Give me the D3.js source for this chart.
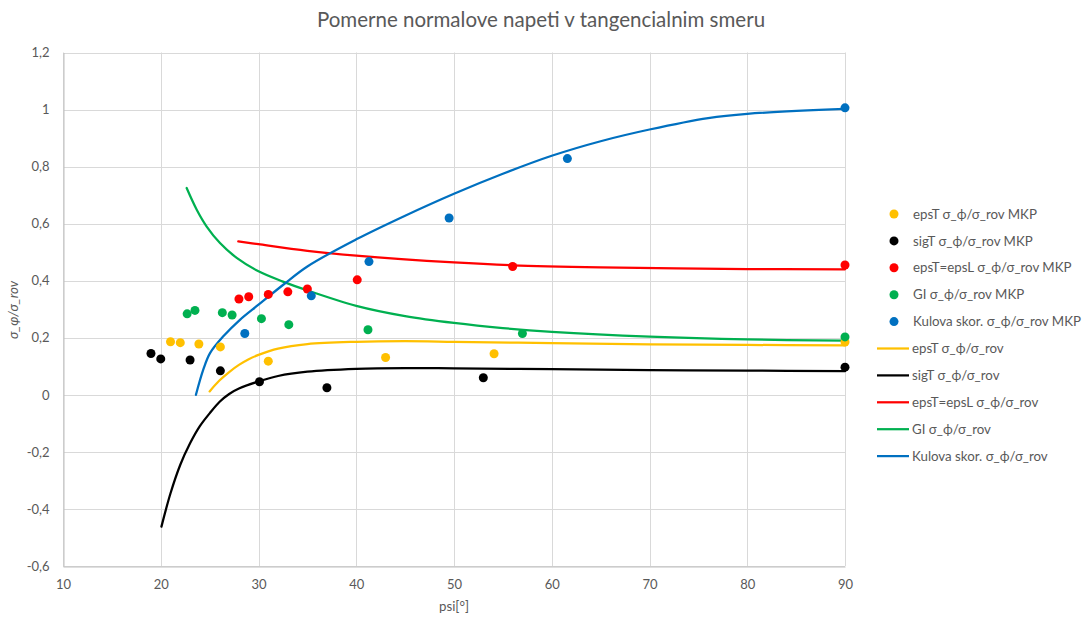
<!DOCTYPE html>
<html>
<head>
<meta charset="utf-8">
<script src="https://cdn.jsdelivr.net/npm/d3@7"></script>
<style>
  html, body { margin: 0; padding: 0; background: #fff; }
  svg { display: block; }
  text { font-family: Lato, "Open Sans", sans-serif; fill: #595959; }
</style>
</head>
<body>
<svg id="chart" width="1082" height="617"></svg>
<script>
// Axis ticks
const xTicks = [10, 20, 30, 40, 50, 60, 70, 80, 90];
const yTicks = [-0.6, -0.4, -0.2, 0, 0.2, 0.4, 0.6, 0.8, 1, 1.2];

// MKP results (points)
const epsT_mkp_x = [21, 22, 23.9, 26.1, 31, 43, 54.1, 90];
const epsT_mkp_y = [0.186, 0.183, 0.178, 0.168, 0.118, 0.131, 0.144, 0.185];

const sigT_mkp_x = [19, 20, 23, 26.1, 30.1, 37, 53, 90];
const sigT_mkp_y = [0.145, 0.126, 0.122, 0.084, 0.046, 0.025, 0.06, 0.097];

const epsTL_mkp_x = [28, 29, 31, 33, 35, 40.1, 56, 90];
const epsTL_mkp_y = [0.336, 0.344, 0.352, 0.361, 0.371, 0.403, 0.45, 0.455];

const gi_mkp_x = [22.7, 23.5, 26.3, 27.3, 30.3, 33.1, 41.2, 57, 90];
const gi_mkp_y = [0.284, 0.296, 0.288, 0.28, 0.267, 0.246, 0.228, 0.215, 0.203];

const kul_mkp_x = [28.6, 35.4, 41.3, 49.5, 61.6, 90];
const kul_mkp_y = [0.215, 0.347, 0.467, 0.62, 0.828, 1.006];

// Analytical curves
const epsT_x = [25, 26, 27, 28, 29, 30, 32, 35, 40, 45, 50, 60, 70, 80, 90];
const epsT_y = [0.012, 0.05, 0.08, 0.105, 0.125, 0.14, 0.162, 0.178, 0.186, 0.188, 0.186, 0.181, 0.177, 0.175, 0.173];

const sigT_x = [20.07, 21, 22, 23, 24, 25, 26, 27, 28, 30, 32, 35, 40, 45, 50, 60, 70, 80, 90];
const sigT_y = [-0.462, -0.345, -0.245, -0.17, -0.11, -0.065, -0.025, 0.003, 0.022, 0.047, 0.066, 0.081, 0.091, 0.094, 0.093, 0.09, 0.087, 0.085, 0.083];

const epsTL_x = [27.93, 30, 35, 40, 50, 56, 65, 80, 90];
const epsTL_y = [0.538, 0.528, 0.505, 0.488, 0.464, 0.454, 0.447, 0.441, 0.44];

const gi_x = [22.65, 23.68, 24.7, 26.06, 27.77, 30, 32.5, 35, 40, 45, 50, 55, 60, 70, 80, 90];
const gi_y = [0.725, 0.649, 0.59, 0.532, 0.48, 0.433, 0.397, 0.366, 0.312, 0.276, 0.252, 0.234, 0.221, 0.204, 0.194, 0.19];

const kul_x = [23.6, 24.35, 25.04, 26.4, 28.1, 30, 32.5, 35, 40, 45, 50, 55, 60, 65, 70, 76, 80, 90];
const kul_y = [0, 0.088, 0.146, 0.205, 0.263, 0.316, 0.385, 0.45, 0.545, 0.628, 0.705, 0.775, 0.838, 0.889, 0.93, 0.97, 0.985, 1.002];

const colors = {
  epsT: "#FFC000",
  sigT: "#000000",
  epsTL: "#FF0000",
  gi: "#00B050",
  kul: "#0070C0"
};

const pointSeries = [
  { name: "epsT σ_ϕ/σ_rov MKP", xs: epsT_mkp_x, ys: epsT_mkp_y, color: colors.epsT },
  { name: "sigT σ_ϕ/σ_rov MKP", xs: sigT_mkp_x, ys: sigT_mkp_y, color: colors.sigT },
  { name: "epsT=epsL σ_ϕ/σ_rov MKP", xs: epsTL_mkp_x, ys: epsTL_mkp_y, color: colors.epsTL },
  { name: "GI σ_ϕ/σ_rov MKP", xs: gi_mkp_x, ys: gi_mkp_y, color: colors.gi },
  { name: "Kulova skor. σ_ϕ/σ_rov MKP", xs: kul_mkp_x, ys: kul_mkp_y, color: colors.kul }
];
const lineSeries = [
  { name: "epsT σ_ϕ/σ_rov", xs: epsT_x, ys: epsT_y, color: colors.epsT },
  { name: "sigT σ_ϕ/σ_rov", xs: sigT_x, ys: sigT_y, color: colors.sigT },
  { name: "epsT=epsL σ_ϕ/σ_rov", xs: epsTL_x, ys: epsTL_y, color: colors.epsTL },
  { name: "GI σ_ϕ/σ_rov", xs: gi_x, ys: gi_y, color: colors.gi },
  { name: "Kulova skor. σ_ϕ/σ_rov", xs: kul_x, ys: kul_y, color: colors.kul }
];

const svg = d3.select("#chart");
const plot = { left: 63, right: 845, top: 52.5, bottom: 566 };

const x = d3.scaleLinear().domain([10, 90]).range([plot.left, plot.right]);
const y = d3.scaleLinear().domain([-0.6, 1.2]).range([plot.bottom, plot.top]);

const fmt = v => String(+v.toFixed(1)).replace(".", ",");

// Grid
const grid = svg.append("g");
grid.selectAll("line.h").data(yTicks).join("line")
  .attr("x1", plot.left).attr("x2", plot.right)
  .attr("y1", d => Math.round(y(d)) + 0.5).attr("y2", d => Math.round(y(d)) + 0.5)
  .attr("stroke", "#d9d9d9").attr("stroke-width", 1);
grid.selectAll("line.v").data(xTicks).join("line")
  .attr("y1", plot.top).attr("y2", plot.bottom)
  .attr("x1", d => Math.round(x(d)) + 0.5).attr("x2", d => Math.round(x(d)) + 0.5)
  .attr("stroke", "#d9d9d9").attr("stroke-width", 1);

// Axes
const xAxis = svg.append("g")
  .attr("transform", `translate(0,${Math.round(y(-0.6)) + 0.5})`)
  .call(d3.axisBottom(x).tickValues(xTicks).tickSize(0).tickPadding(13).tickFormat(d => d));
xAxis.select(".domain").attr("stroke", "#bfbfbf");
xAxis.selectAll("text").style("font-size", "13px").attr("fill", "#595959").style("font-family", "Lato, sans-serif");

const yAxis = svg.append("g")
  .attr("transform", `translate(${Math.round(x(10)) + 0.5},0)`)
  .call(d3.axisLeft(y).tickValues(yTicks).tickSize(0).tickPadding(14).tickFormat(fmt));
yAxis.select(".domain").attr("stroke", "#bfbfbf");
yAxis.selectAll("text").style("font-size", "13px").attr("fill", "#595959").style("font-family", "Lato, sans-serif");

// Curves
const lineGen = d3.line().x(d => x(d[0])).y(d => y(d[1])).curve(d3.curveCatmullRom.alpha(0.5));
svg.append("g").selectAll("path").data(lineSeries).join("path")
  .attr("d", s => lineGen(s.xs.map((v, i) => [v, s.ys[i]])))
  .attr("fill", "none").attr("stroke", s => s.color).attr("stroke-width", 2.25)
  .attr("stroke-linejoin", "round").attr("stroke-linecap", "round");

// Points
const pts = svg.append("g");
pointSeries.forEach(s => {
  pts.append("g").selectAll("circle").data(s.xs.map((v, i) => [v, s.ys[i]])).join("circle")
    .attr("cx", d => x(d[0])).attr("cy", d => y(d[1])).attr("r", 4.5)
    .attr("fill", s.color);
});

// Title
svg.append("text").attr("x", 541).attr("y", 27).attr("text-anchor", "middle")
  .style("font-size", "20.5px").text("Pomerne normalove napeti v tangencialnim smeru");

// Axis titles
svg.append("text").attr("x", 454).attr("y", 611).attr("text-anchor", "middle")
  .style("font-size", "13.3px").text("psi[°]");
svg.append("text").attr("transform", "translate(18,310) rotate(-90)").attr("text-anchor", "middle")
  .style("font-size", "13.3px").style("font-style", "italic").text("σ_φ/σ_rov");

// Legend
const legend = svg.append("g");
const rowY = i => 214 + i * 26.9;
pointSeries.forEach((s, i) => {
  legend.append("circle").attr("cx", 894).attr("cy", rowY(i)).attr("r", 4.5).attr("fill", s.color);
  legend.append("text").attr("x", 913).attr("y", rowY(i)).attr("dy", "0.35em")
    .style("font-size", "13.3px").text(s.name);
});
lineSeries.forEach((s, j) => {
  const i = j + 5;
  legend.append("line").attr("x1", 877).attr("x2", 909).attr("y1", rowY(i)).attr("y2", rowY(i))
    .attr("stroke", s.color).attr("stroke-width", 2.25);
  legend.append("text").attr("x", 912).attr("y", rowY(i)).attr("dy", "0.35em")
    .style("font-size", "13.3px").text(s.name);
});
</script>
</body>
</html>
